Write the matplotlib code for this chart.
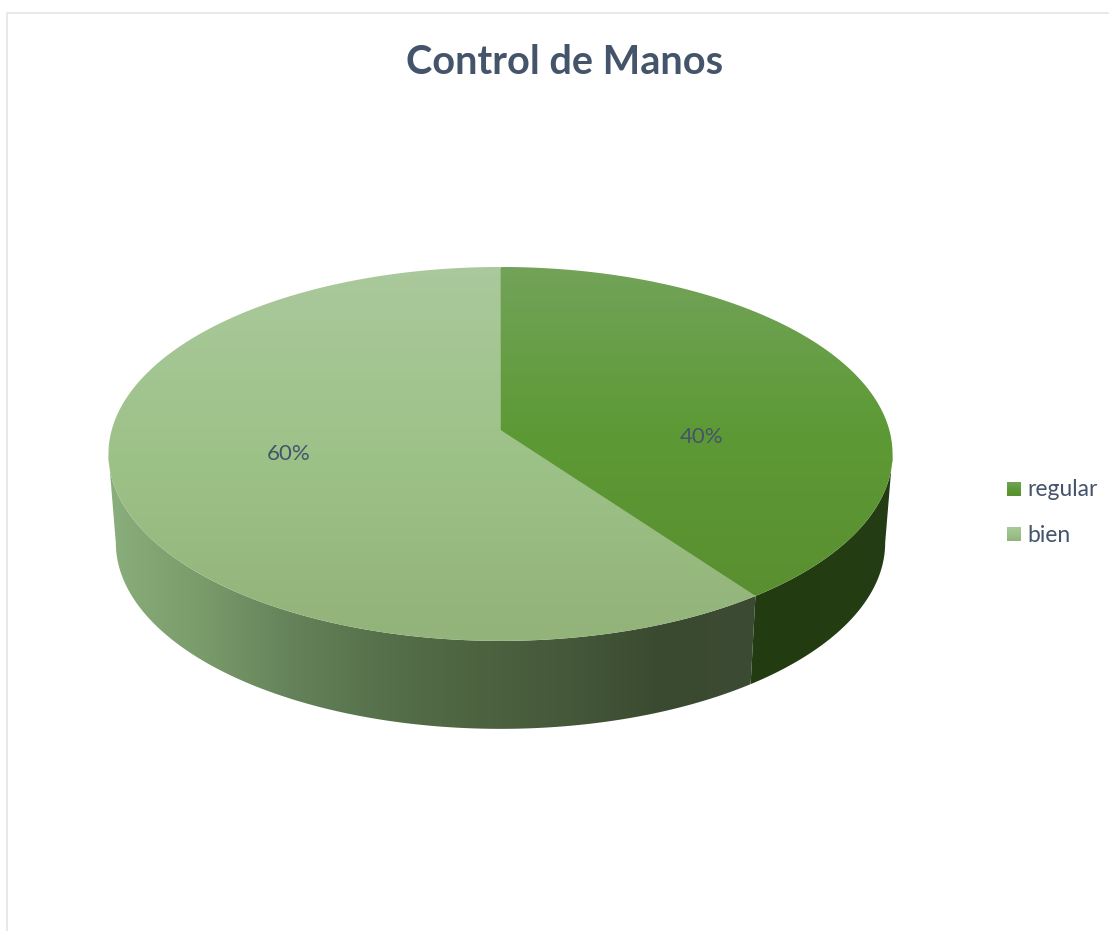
import numpy as np
import matplotlib
matplotlib.use("Agg")
import matplotlib.pyplot as plt
from matplotlib.colors import LinearSegmentedColormap
from matplotlib.patches import Polygon

plt.rcParams["font.family"] = ["Lato", "DejaVu Sans"]

title = "Control de Manos"
labels = ["regular", "bien"]
values = [40, 60]

TEXT = "#44546a"
FRAME = "#e2e5e8"

# vertical shading of the lids, horizontal shading of the walls
lid_colors = [
    ["#72a359", "#5d9a35", "#5a8f30"],
    ["#aac99c", "#9dc288", "#92b37a"],
]
wall_colors = [
    ["#223b10", "#253d14"],
    ["#8aae7c", "#7a9b6a", "#64825a", "#55704a", "#4d6340", "#45583a", "#3a4a30", "#3c4a33"],
]

# perspective of the disc, in pixels
CX = 500.5
TILT = 0.128
RX_TOP, RY_TOP, Y_TOP = 388.8, 183.9, 430
RX_BOT, RY_BOT, Y_BOT = 381.5, 183.0, 519

# percentage labels are not centred in their slices
label_xy = [(702, 437), (289, 454)]


def project(angle, rx, ry, y0):
    # angle runs clockwise from twelve o'clock
    u, v = np.sin(angle), np.cos(angle)
    w = 1 + TILT * v
    return np.column_stack([CX + rx * u / w, y0 - ry * v / w])


def shade(ax, colors, patch, horizontal=False):
    cmap = LinearSegmentedColormap.from_list("shade", colors)
    x0, y0 = patch.get_xy().min(axis=0)
    x1, y1 = patch.get_xy().max(axis=0)
    ramp = np.linspace(0, 1, 256)
    ramp = ramp[None, :] if horizontal else ramp[:, None]
    im = ax.imshow(ramp, cmap=cmap, extent=(x0, x1, y1, y0), aspect="auto", zorder=patch.get_zorder())
    ax.add_patch(patch)
    patch.set_visible(False)
    im.set_clip_path(patch.get_path(), patch.get_transform())


fig = plt.figure(figsize=(11.10, 9.31), dpi=100)
ax = fig.add_axes([0, 0, 1, 1])

edges = np.concatenate([[0], np.cumsum(values)]) / sum(values) * 2 * np.pi
# walls are visible between the two side extremes of the disc
wall_start = np.pi / 2 + np.arcsin(TILT)
wall_end = 2 * np.pi - wall_start

# backing under the lids so no white seam shows between the slices
t = np.linspace(0, 2 * np.pi, 400)
ax.add_patch(Polygon(project(t, RX_TOP - 1, RY_TOP - 1, Y_TOP), closed=True, fc="#85ad68", ec="none", zorder=2.5))

for i in range(len(values)):
    a0, a1 = edges[i], edges[i + 1]
    lo, hi = max(a0, wall_start), min(a1, wall_end)
    t = np.linspace(lo, hi, 200)
    wall = np.vstack([project(t, RX_TOP, RY_TOP, Y_TOP), project(t[::-1], RX_BOT, RY_BOT, Y_BOT)])
    shade(ax, wall_colors[i], Polygon(wall, closed=True, zorder=2), horizontal=True)

    t = np.linspace(a0, a1, 300)
    lid = np.vstack([[[CX, Y_TOP]], project(t, RX_TOP, RY_TOP, Y_TOP)])
    shade(ax, lid_colors[i], Polygon(lid, closed=True, zorder=3))

    ax.text(*label_xy[i], f"{values[i]}%", color=TEXT, fontsize=16, ha="center", va="center", zorder=4)

# legend
for label, colors, y in zip(labels, lid_colors, [489, 534]):
    swatch = Polygon([[1007, y - 7], [1021, y - 7], [1021, y + 7], [1007, y + 7]], closed=True, zorder=3)
    shade(ax, colors, swatch)
    ax.text(1027, y + 1, label, color=TEXT, fontsize=16.5, ha="left", va="center")

ax.text(565, 62, title, color=TEXT, fontsize=28.5, fontweight="bold", ha="center", va="center")

# chart frame, open at the bottom
ax.plot([6.5, 6.5, 1108], [931, 12.5, 12.5], color=FRAME, lw=1.2, zorder=1)

ax.set_xlim(0, 1110)
ax.set_ylim(931, 0)
ax.axis("off")

fig.savefig("out.png", dpi=100)
